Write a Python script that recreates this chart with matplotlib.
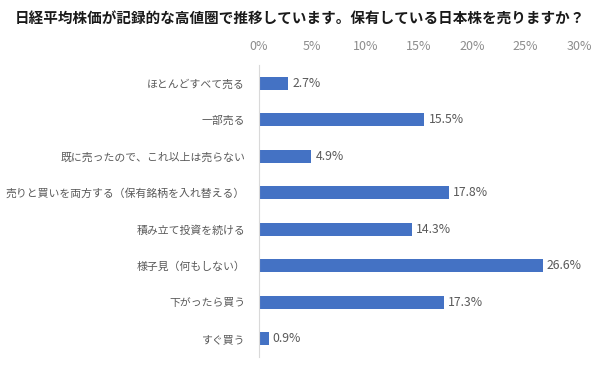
import matplotlib
matplotlib.use("Agg")
import matplotlib.pyplot as plt
from matplotlib.ticker import FuncFormatter

plt.rcParams['font.family'] = ['Noto Sans CJK JP', 'DejaVu Sans']

categories = [
    "ほとんどすべて売る",
    "一部売る",
    "既に売ったので、これ以上は売らない",
    "売りと買いを両方する（保有銘柄を入れ替える）",
    "積み立て投資を続ける",
    "様子見（何もしない）",
    "下がったら買う",
    "すぐ買う",
]
values = [2.7, 15.5, 4.9, 17.8, 14.3, 26.6, 17.3, 0.9]
xticks = [0, 5, 10, 15, 20, 25, 30]
title = "日経平均株価が記録的な高値圏で推移しています。保有している日本株を売りますか？"

fig = plt.figure(figsize=(6.0, 3.66), dpi=100)
ax = fig.add_axes([259/600, 1-357/366, 320/600, (357-65)/366])

y = list(range(len(categories)))
ax.barh(y, values, height=0.35, color="#4472C4")
for yi, v in zip(y, values):
    ax.text(v + 0.4, yi, f"{v:.1f}%", va="center", ha="left", fontsize=8.8, color="#595959")

ax.set_ylim(len(categories) - 0.5, -0.5)
ax.set_xlim(0, 30)
ax.set_yticks(y)
ax.set_yticklabels(categories, fontsize=7.8, color="#595959")
ax.set_xticks(xticks)
ax.xaxis.set_major_formatter(FuncFormatter(lambda v, p: f"{v:.0f}%"))
ax.xaxis.tick_top()
ax.tick_params(axis="x", length=0, labelsize=9, labelcolor="#8c8c8c", pad=9)
ax.tick_params(axis="y", length=0, pad=10)
for s in ["top", "right", "bottom"]:
    ax.spines[s].set_visible(False)
ax.spines["left"].set_color("#d9d9d9")
ax.spines["left"].set_linewidth(0.8)

fig.text(15/600, 1-18/366, title, fontsize=10.5, fontweight="bold", color="#1a1a1a", va="center", ha="left")

fig.savefig("out.png", dpi=100, facecolor="white")
